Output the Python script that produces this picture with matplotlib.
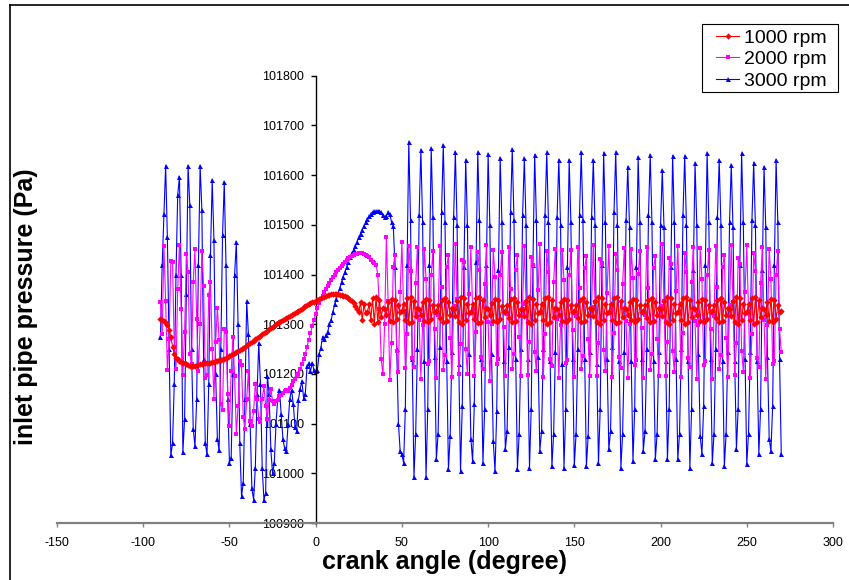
import numpy as np
import matplotlib
matplotlib.use('Agg')
import matplotlib.pyplot as plt
from matplotlib.lines import Line2D
from matplotlib.patches import Rectangle

plt.rcParams['font.family'] = ['Liberation Sans', 'DejaVu Sans']
plt.rcParams['axes.unicode_minus'] = False

# crank angle, 1 degree steps
angle = np.arange(-90, 271)

# inlet pipe pressure (Pa)
p1000 = [
    101310, 101308, 101306, 101303, 101298, 101289, 101275, 101255, 101240, 101232,  # -90
    101229, 101226, 101224, 101222, 101221, 101219, 101217, 101216, 101215, 101215,  # -80
    101216, 101217, 101218, 101219, 101220, 101221, 101221, 101222, 101222, 101222,  # -70
    101223, 101224, 101225, 101226, 101227, 101228, 101229, 101230, 101232, 101234,  # -60
    101236, 101238, 101240, 101242, 101244, 101246, 101248, 101250, 101253, 101255,  # -50
    101258, 101260, 101262, 101265, 101267, 101270, 101272, 101275, 101277, 101280,  # -40
    101282, 101285, 101287, 101290, 101292, 101295, 101297, 101300, 101302, 101304,  # -30
    101306, 101308, 101310, 101312, 101315, 101317, 101319, 101321, 101323, 101325,  # -20
    101327, 101329, 101331, 101334, 101337, 101339, 101341, 101342, 101344, 101345,  # -10
    101346, 101348, 101350, 101352, 101354, 101355, 101357, 101358, 101359, 101360,  # 0
    101361, 101361, 101361, 101360, 101359, 101358, 101357, 101356, 101355, 101352,  # 10
    101349, 101346, 101342, 101336, 101330, 101325, 101345, 101308, 101340, 101323,  # 20
    101325, 101340, 101309, 101352, 101301, 101355, 101304, 101348, 101315, 101333,  # 30
    101330, 101318, 101344, 101307, 101351, 101304, 101349, 101311, 101338, 101324,  # 40
    101326, 101341, 101309, 101353, 101302, 101355, 101305, 101347, 101316, 101333,  # 50
    101331, 101318, 101345, 101307, 101350, 101304, 101349, 101310, 101338, 101325,  # 60
    101326, 101338, 101312, 101349, 101304, 101352, 101307, 101345, 101318, 101332,  # 70
    101331, 101316, 101347, 101304, 101355, 101301, 101352, 101308, 101341, 101323,  # 80
    101325, 101340, 101310, 101352, 101302, 101354, 101304, 101348, 101315, 101332,  # 90
    101330, 101318, 101343, 101307, 101351, 101305, 101349, 101311, 101337, 101324,  # 100
    101326, 101338, 101312, 101350, 101304, 101352, 101307, 101344, 101318, 101331,  # 110
    101331, 101316, 101347, 101305, 101355, 101301, 101351, 101308, 101341, 101323,  # 120
    101325, 101340, 101309, 101352, 101301, 101355, 101304, 101348, 101315, 101333,  # 130
    101330, 101318, 101344, 101307, 101351, 101304, 101349, 101311, 101338, 101324,  # 140
    101326, 101338, 101312, 101349, 101304, 101352, 101307, 101345, 101318, 101332,  # 150
    101331, 101316, 101347, 101304, 101355, 101301, 101352, 101308, 101341, 101323,  # 160
    101325, 101341, 101309, 101352, 101302, 101355, 101304, 101347, 101315, 101333,  # 170
    101330, 101318, 101344, 101308, 101351, 101304, 101348, 101311, 101338, 101324,  # 180
    101326, 101338, 101312, 101349, 101304, 101352, 101307, 101345, 101318, 101332,  # 190
    101331, 101316, 101347, 101304, 101355, 101301, 101352, 101308, 101341, 101323,  # 200
    101325, 101340, 101309, 101352, 101301, 101355, 101304, 101348, 101315, 101333,  # 210
    101330, 101318, 101344, 101307, 101351, 101304, 101349, 101311, 101338, 101324,  # 220
    101326, 101338, 101312, 101349, 101304, 101352, 101307, 101345, 101318, 101332,  # 230
    101331, 101316, 101347, 101304, 101355, 101301, 101352, 101308, 101341, 101323,  # 240
    101325, 101340, 101309, 101352, 101301, 101355, 101304, 101348, 101315, 101333,  # 250
    101330, 101318, 101344, 101307, 101351, 101304, 101349, 101311, 101338, 101324,  # 260
    101326,                                                                          # 270
]

p2000 = [
    101345, 101280, 101458, 101346, 101208, 101270, 101428, 101425, 101255, 101210,  # -90
    101370, 101460, 101330, 101198, 101285, 101441, 101406, 101240, 101220, 101385,  # -80
    101451, 101310, 101205, 101300, 101447, 101376, 101192, 101198, 101359, 101385,  # -70
    101250, 101150, 101265, 101333, 101268, 101140, 101128, 101290, 101284, 101160,  # -60
    101095, 101205, 101275, 101195, 101080, 101135, 101225, 101217, 101114, 101090,  # -50
    101150, 101205, 101105, 101095, 101125, 101180, 101150, 101110, 101103, 101150,  # -40
    101175, 101135, 101110, 101148, 101170, 101145, 101140, 101145, 101148, 101155,  # -30
    101158, 101162, 101165, 101168, 101165, 101172, 101178, 101185, 101190, 101195,  # -20
    101200, 101210, 101220, 101229, 101240, 101255, 101269, 101282, 101296, 101309,  # -10
    101320, 101332, 101342, 101350, 101357, 101364, 101371, 101377, 101383, 101389,  # 0
    101395, 101400, 101405, 101410, 101414, 101418, 101422, 101426, 101430, 101433,  # 10
    101436, 101438, 101440, 101441, 101442, 101443, 101443, 101443, 101442, 101440,  # 20
    101438, 101435, 101430, 101426, 101423, 101420, 101400, 101330, 101229, 101199,  # 30
    101300, 101475, 101346, 101188, 101263, 101416, 101440, 101247, 101204, 101365,  # 40
    101466, 101327, 101212, 101281, 101458, 101407, 101232, 101214, 101383, 101455,  # 50
    101308, 101190, 101299, 101452, 101391, 101219, 101226, 101399, 101448, 101290,  # 60
    101191, 101318, 101457, 101374, 101208, 101239, 101415, 101439, 101272, 101194,  # 70
    101337, 101462, 101350, 101200, 101260, 101430, 101425, 101250, 101200, 101360,  # 80
    101455, 101330, 101195, 101285, 101445, 101410, 101235, 101210, 101380, 101460,  # 90
    101305, 101185, 101300, 101450, 101395, 101220, 101230, 101400, 101445, 101295,  # 100
    101195, 101320, 101455, 101370, 101210, 101240, 101410, 101440, 101275, 101195,  # 110
    101340, 101458, 101345, 101198, 101265, 101435, 101420, 101245, 101205, 101368,  # 120
    101462, 101325, 101193, 101280, 101447, 101405, 101230, 101215, 101385, 101452,  # 130
    101310, 101192, 101298, 101450, 101388, 101222, 101228, 101398, 101450, 101288,  # 140
    101193, 101316, 101455, 101372, 101210, 101237, 101413, 101437, 101270, 101196,  # 150
    101335, 101460, 101344, 101195, 101262, 101432, 101423, 101248, 101206, 101363,  # 160
    101457, 101328, 101194, 101283, 101442, 101409, 101233, 101212, 101381, 101454,  # 170
    101306, 101191, 101301, 101451, 101393, 101217, 101227, 101401, 101447, 101292,  # 180
    101192, 101319, 101456, 101373, 101207, 101240, 101414, 101438, 101271, 101195,  # 190
    101336, 101461, 101347, 101196, 101264, 101433, 101422, 101246, 101203, 101366,  # 200
    101458, 101326, 101193, 101282, 101443, 101406, 101231, 101213, 101384, 101456,  # 210
    101307, 101189, 101298, 101453, 101390, 101218, 101225, 101398, 101449, 101291,  # 220
    101190, 101317, 101458, 101375, 101209, 101238, 101416, 101440, 101273, 101193,  # 230
    101338, 101459, 101345, 101197, 101263, 101434, 101421, 101247, 101204, 101365,  # 240
    101459, 101327, 101192, 101281, 101444, 101407, 101232, 101214, 101383, 101455,  # 250
    101308, 101190, 101299, 101452, 101391, 101219, 101226, 101399, 101448, 101290,  # 260
    101244,                                                                          # 270
]

p3000 = [
    101275, 101420, 101522, 101619, 101475, 101250, 101036, 101060, 101180, 101400,  # -90
    101560, 101597, 101400, 101042, 101110, 101360, 101619, 101540, 101250, 101090,  # -80
    101054, 101150, 101420, 101619, 101530, 101230, 101060, 101038, 101180, 101440,  # -70
    101590, 101470, 101200, 101070, 101046, 101250, 101480, 101586, 101420, 101150,  # -60
    101021, 101030, 101200, 101400, 101466, 101300, 101060, 100954, 100980, 101150,  # -50
    101346, 101280, 101100, 100970, 100947, 101010, 101160, 101262, 101180, 101010,  # -40
    100947, 100960, 101196, 101160, 101048, 101000, 101020, 101100, 101150, 101168,  # -30
    101120, 101070, 101050, 101044, 101100, 101150, 101168, 101140, 101094, 101086,  # -20
    101148, 101170, 101185, 101152, 101160, 101215, 101222, 101205, 101222, 101208,  # -10
    101205, 101208, 101240, 101252, 101275, 101270, 101278, 101285, 101300, 101309,  # 0
    101325, 101340, 101350, 101362, 101372, 101385, 101395, 101405, 101415, 101425,  # 10
    101435, 101443, 101450, 101458, 101465, 101475, 101482, 101490, 101498, 101505,  # 20
    101512, 101517, 101522, 101526, 101527, 101527, 101528, 101528, 101525, 101520,  # 30
    101516, 101518, 101525, 101522, 101505, 101498, 101416, 101250, 101100, 101045,  # 40
    101038, 101021, 101130, 101420, 101667, 101510, 101230, 100992, 101080, 101250,  # 50
    101520, 101651, 101505, 101225, 100992, 101130, 101420, 101654, 101515, 101235,  # 60
    101028, 101080, 101255, 101525, 101661, 101505, 101225, 101008, 101075, 101245,  # 70
    101515, 101647, 101500, 101220, 101004, 101135, 101415, 101631, 101500, 101240,  # 80
    101070, 101024, 101140, 101425, 101646, 101510, 101230, 101021, 101130, 101420,  # 90
    101642, 101500, 101240, 101065, 101004, 101125, 101410, 101635, 101505, 101225,  # 100
    101048, 101085, 101255, 101525, 101652, 101510, 101230, 101008, 101080, 101250,  # 110
    101520, 101634, 101500, 101230, 101011, 101130, 101420, 101641, 101510, 101235,  # 120
    101045, 101085, 101250, 101520, 101646, 101505, 101225, 101014, 101080, 101245,  # 130
    101515, 101631, 101500, 101220, 101011, 101130, 101415, 101631, 101505, 101230,  # 140
    101016, 101080, 101250, 101520, 101646, 101510, 101230, 101014, 101075, 101245,  # 150
    101515, 101631, 101500, 101220, 101020, 101130, 101420, 101645, 101505, 101230,  # 160
    101048, 101085, 101255, 101525, 101646, 101500, 101225, 101011, 101080, 101245,  # 170
    101510, 101617, 101495, 101225, 101024, 101130, 101415, 101636, 101505, 101230,  # 180
    101045, 101085, 101250, 101520, 101641, 101505, 101225, 101028, 101080, 101245,  # 190
    101500, 101610, 101495, 101225, 101028, 101130, 101415, 101639, 101505, 101230,  # 200
    101028, 101080, 101250, 101520, 101639, 101500, 101225, 101011, 101130, 101410,  # 210
    101624, 101500, 101240, 101075, 101038, 101135, 101420, 101645, 101505, 101230,  # 220
    101021, 101080, 101250, 101515, 101631, 101500, 101225, 101014, 101080, 101245,  # 230
    101505, 101621, 101495, 101225, 101048, 101130, 101420, 101644, 101505, 101230,  # 240
    101018, 101080, 101245, 101510, 101625, 101500, 101225, 101038, 101130, 101410,  # 250
    101617, 101495, 101235, 101070, 101045, 101135, 101420, 101631, 101505, 101230,  # 260
    101038,                                                                          # 270
]

labels = ['1000 rpm', '2000 rpm', '3000 rpm']
x_ticks = [-150, -100, -50, 0, 50, 100, 150, 200, 250, 300]
y_ticks = [100900, 101000, 101100, 101200, 101300, 101400, 101500, 101600, 101700, 101800]

W, H = 849, 580
fig = plt.figure(figsize=(W / 100, H / 100), dpi=100)
ax = fig.add_axes([57 / W, 1 - 523 / H, (833 - 57) / W, (523 - 75.7) / H])

l3, = ax.plot(angle, p3000, color='#0000ff', lw=0.8, marker='^', ms=3.6, mew=0, zorder=2)
l2, = ax.plot(angle, p2000, color='#ff00ff', lw=0.8, marker='s', ms=2.4, mew=0, zorder=3)
l1, = ax.plot(angle, p1000, color='#ff0000', lw=0.8, marker='D', ms=3.2, mew=0, zorder=4)

ax.set_xlim(-150, 300)
ax.set_ylim(100900, 101800)
ax.set_xticks(x_ticks)
ax.set_yticks(y_ticks)
ax.set_facecolor('none')

ax.spines['top'].set_visible(False)
ax.spines['right'].set_visible(False)
ax.spines['left'].set_position(('data', 0))
ax.spines['left'].set_linewidth(1)
ax.spines['bottom'].set_color('#808080')
ax.spines['bottom'].set_linewidth(1.6)

ax.tick_params(axis='x', direction='out', length=3, width=1, color='#808080', pad=7, labelsize=9)
ax.tick_params(axis='y', direction='out', length=3.5, width=1, color='black', pad=5, labelsize=9)

fig.text(445 / W, 1 - 562 / H, 'crank angle (degree)', ha='center', va='center',
         fontsize=18, fontweight='bold')
fig.text(26 / W, 1 - 307 / H, 'inlet pipe pressure (Pa)', ha='center', va='center',
         rotation=90, fontsize=18, fontweight='bold')

# legend entries without frame, box drawn separately to match the original's padding
leg = fig.legend([l1, l2, l3], labels, loc='upper left',
                 bbox_to_anchor=(716 / W, 1 - 29 / H), bbox_transform=fig.transFigure,
                 frameon=False, fontsize=14, handlelength=1.2, handletextpad=0.26,
                 labelspacing=0.2, borderpad=0, borderaxespad=0)
fig.add_artist(Rectangle((702 / W, 1 - 92 / H), 136 / W, 68 / H, transform=fig.transFigure,
                         fill=False, edgecolor='black', lw=0.8))

# chart area border (left and top edges visible in the original)
fig.add_artist(Line2D([10 / W, 10 / W], [0, 1 - 5 / H], color='black', lw=1.2,
                      transform=fig.transFigure))
fig.add_artist(Line2D([10 / W, 1], [1 - 5 / H, 1 - 5 / H], color='black', lw=1.2,
                      transform=fig.transFigure))

fig.savefig('out.png', dpi=100)
